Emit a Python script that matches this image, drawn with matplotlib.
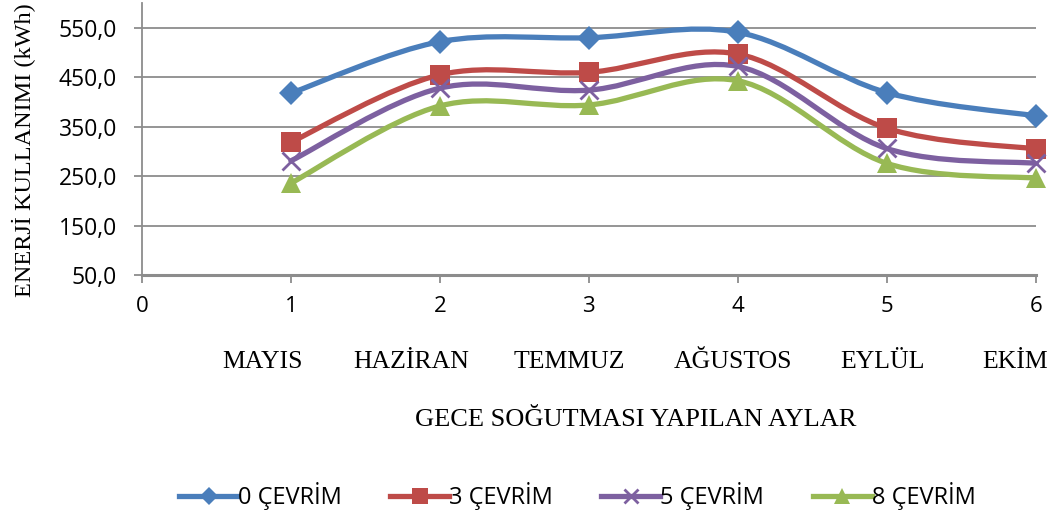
import matplotlib.pyplot as plt
import numpy as np
from matplotlib.path import Path
from matplotlib.patches import PathPatch
from matplotlib.lines import Line2D

# data
months_idx = [1, 2, 3, 4, 5, 6]
month_names = ["MAYIS", "HAZİRAN", "TEMMUZ", "AĞUSTOS", "EYLÜL", "EKİM"]
cevrim_0 = [418, 522, 530, 541, 419, 372]
cevrim_3 = [319, 455, 460, 497, 347, 305]
cevrim_5 = [281, 428, 424, 472, 306, 276]
cevrim_8 = [236, 392, 394, 443, 276, 246]
series_labels = ["0 ÇEVRİM", "3 ÇEVRİM", "5 ÇEVRİM", "8 ÇEVRİM"]

colors = ["#4A7EBB", "#BE4B48", "#7D60A0", "#98B954"]
markers = ["D", "s", "x", "^"]
msizes = [12, 15, 13, 15]

# where the month names sit along the x axis (text box positions)
month_label_x = [0.81, 1.81, 2.87, 3.97, 4.97, 5.86]

tick_font = "Open Sans"
serif_font = "Liberation Serif"


def smooth_path(x, y):
    # excel-like smoothed line: cubic bezier with catmull-rom control points
    pts = np.column_stack([x, y]).astype(float)
    n = len(pts)
    verts = [pts[0]]
    codes = [Path.MOVETO]
    for i in range(n - 1):
        p0 = pts[i - 1] if i > 0 else pts[i]
        p1 = pts[i]
        p2 = pts[i + 1]
        p3 = pts[i + 2] if i + 2 < n else pts[i + 1]
        c1 = p1 + (p2 - p0) / 6.0
        c2 = p2 - (p3 - p1) / 6.0
        verts += [c1, c2, p2]
        codes += [Path.CURVE4] * 3
    return Path(verts, codes)


fig = plt.figure(figsize=(10.59, 5.2), dpi=100)
ax = fig.add_axes([0.134, 0.471, 0.844, 0.523])

ax.set_xlim(0, 6)
ax.set_ylim(50, 600)
ax.set_yticks([50, 150, 250, 350, 450, 550])
ax.set_yticklabels([f"{v:.1f}".replace(".", ",") for v in [50, 150, 250, 350, 450, 550]])
ax.set_xticks(range(0, 7))
ax.grid(axis="y", color="#8c8c8c", linewidth=1.3)
ax.set_axisbelow(True)

for s in ["top", "right"]:
    ax.spines[s].set_visible(False)
ax.spines["left"].set_color("#8c8c8c")
ax.spines["left"].set_linewidth(1.3)
ax.spines["bottom"].set_color("#8c8c8c")
ax.spines["bottom"].set_linewidth(2.2)
ax.tick_params(axis="both", colors="#8c8c8c", labelcolor="black", length=6, width=1.3)
ax.tick_params(axis="x", labelsize=16, pad=9)
ax.tick_params(axis="y", labelsize=16.5, pad=12)
for lab in ax.get_xticklabels() + ax.get_yticklabels():
    lab.set_fontfamily(tick_font)

handles = []
all_series = [cevrim_0, cevrim_3, cevrim_5, cevrim_8]
for vals, c, m, ms, lab in zip(all_series, colors, markers, msizes, series_labels):
    patch = PathPatch(smooth_path(months_idx, vals), fill=False, edgecolor=c,
                      linewidth=3.8, capstyle="round", joinstyle="round", zorder=3)
    ax.add_patch(patch)
    mew = 2.0 if m == "x" else 0
    ax.plot(months_idx, vals, linestyle="none", marker=m, markersize=ms,
            color=c, markeredgewidth=mew, zorder=4, clip_on=False)
    handles.append(Line2D([0], [0], color=c, linewidth=3.8, marker=m,
                          markersize=ms * 0.8, markeredgewidth=mew, label=lab))

ax.set_ylabel("ENERJİ KULLANIMI (kWh)", fontfamily=serif_font, fontsize=17.5)
ax.yaxis.set_label_coords(-0.118, 0.46)

trans = ax.get_xaxis_transform()
for xpos, name in zip(month_label_x, month_names):
    ax.text(xpos, -0.32, name, transform=trans, ha="center", va="center",
            fontfamily=serif_font, fontsize=18.5)

fig.text(0.60, 0.192, "GECE SOĞUTMASI YAPILAN AYLAR", ha="center", va="center",
         fontfamily=serif_font, fontsize=19)

fig.legend(handles=handles, loc="center", bbox_to_anchor=(0.545, 0.046), ncol=4,
           frameon=False, handlelength=2.5, handletextpad=0.0, columnspacing=2.05,
           prop={"family": tick_font, "size": 17})

fig.savefig("out.png", dpi=100)
